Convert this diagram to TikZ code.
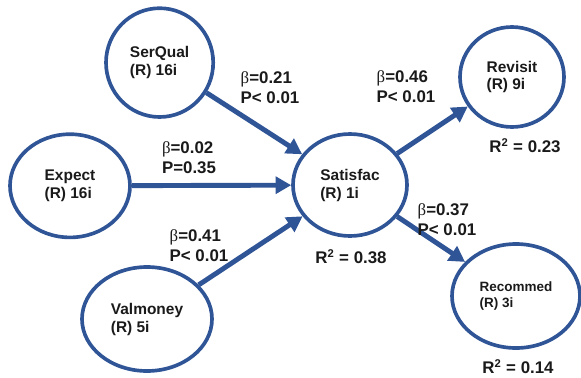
\documentclass[tikz,border=0pt]{standalone}
\usepackage{fontspec}
\setmainfont{Liberation Sans}
\newfontfamily\betafont{Liberation Serif}
\usepackage{xcolor}
\usepackage{tikz}
\usetikzlibrary{arrows.meta,shapes.geometric}
\definecolor{pathBlue}{HTML}{2F5597}
\definecolor{pathInk}{HTML}{1A1A1A}
\newcommand{\betaSym}{{\betafont\mdseries β}}
\tikzset{
  construct/.style={
    ellipse,
    draw=pathBlue,
    line width=2.6pt,
    inner sep=0pt,
    align=left,
    text=pathInk,
    font=\fontsize{11}{12.8}\selectfont\bfseries
  },
  coefLabel/.style={
    align=left,
    text=pathInk,
    inner sep=0pt,
    font=\fontsize{12}{14.2}\selectfont\bfseries
  },
  rsqLabel/.style={
    text=pathInk,
    inner sep=0pt,
    font=\fontsize{12}{14}\selectfont\bfseries
  },
  pathArrow/.style={
    -{Triangle[length=3.9mm,width=4.2mm]},
    line width=3.5pt,
    draw=pathBlue
  }
}
\begin{document}
\begin{tikzpicture}
  \useasboundingbox (0,0) rectangle (14.525,9.425);
  \node[construct,minimum width=2.68cm,minimum height=2.72cm] (serqual) at (3.99,7.86) {SerQual\\(R) 16i};
  \node[construct,minimum width=3.0cm,minimum height=2.58cm] (expect) at (1.75,4.78) {Expect\\(R) 16i};
  \node[construct,minimum width=3.25cm,minimum height=2.6cm] (valmoney) at (3.675,1.45) {Valmoney\\(R) 5i};
  \node[construct,minimum width=2.85cm,minimum height=2.55cm] (satisfac) at (8.75,4.8) {Satisfac\\(R) 1i};
  \node[construct,minimum width=2.6cm,minimum height=2.5cm] (revisit) at (12.8,7.5) {Revisit\\(R) 9i};
  \node[construct,minimum width=3.2cm,minimum height=2.6cm,font=\fontsize{9.6}{11}\selectfont\bfseries] (recommed) at (12.9,2.025) {Recommed\\(R) 3i};
  \draw[pathArrow] (serqual) -- (satisfac);
  \draw[pathArrow] (expect) -- (satisfac);
  \draw[pathArrow] (valmoney) -- (satisfac);
  \draw[pathArrow] (satisfac) -- (revisit);
  \draw[pathArrow] (satisfac) -- (recommed);
  \node[coefLabel] (coefSerqual) at (6.75,7.225) {\betaSym=0.21\\P< 0.01};
  \node[coefLabel] (coefExpect) at (4.725,5.475) {\betaSym=0.02\\P=0.35};
  \node[coefLabel] (coefValmoney) at (4.975,3.275) {\betaSym=0.41\\P< 0.01};
  \node[coefLabel] (coefRevisit) at (10.15,7.25) {\betaSym=0.46\\P< 0.01};
  \node[coefLabel] (coefRecommed) at (11.175,3.925) {\betaSym=0.37\\P< 0.01};
  \node[rsqLabel] (rsqRevisit) at (13.125,5.775) {R\textsuperscript{2} = 0.23};
  \node[rsqLabel] (rsqSatisfac) at (8.775,3.0) {R\textsuperscript{2} = 0.38};
  \node[rsqLabel] (rsqRecommed) at (12.95,0.25) {R\textsuperscript{2} = 0.14};
\end{tikzpicture}
\end{document}
